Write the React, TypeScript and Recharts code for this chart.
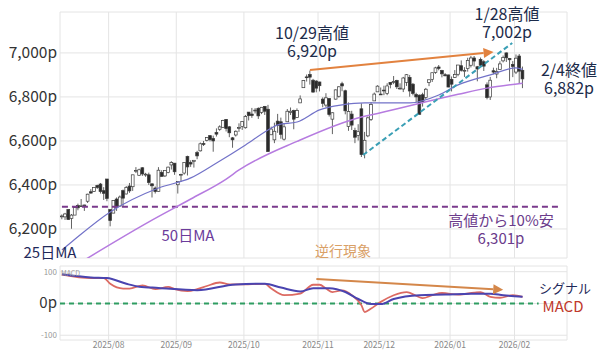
import React from 'react';
import {
  ComposedChart,
  Bar,
  Line,
  XAxis,
  YAxis,
  CartesianGrid,
  ReferenceLine,
} from 'recharts';

// trading days, Jul 11 2025 .. Feb 4 2026 (x = index)
const dates = [
  '7/11', '7/14', '7/15', '7/16', '7/17', '7/18', '7/21', '7/22', '7/23', '7/24', '7/25', '7/28', '7/29', '7/30', '7/31',
  '8/1', '8/4', '8/5', '8/6', '8/7', '8/8', '8/11', '8/12', '8/13', '8/14', '8/15', '8/18', '8/19', '8/20', '8/21', '8/22', '8/25', '8/26', '8/27', '8/28', '8/29',
  '9/2', '9/3', '9/4', '9/5', '9/8', '9/9', '9/10', '9/11', '9/12', '9/15', '9/16', '9/17', '9/18', '9/19', '9/22', '9/23', '9/24', '9/25', '9/26', '9/29', '9/30',
  '10/1', '10/2', '10/3', '10/6', '10/7', '10/8', '10/9', '10/10', '10/13', '10/14', '10/15', '10/16', '10/17', '10/20', '10/21', '10/22', '10/23', '10/24', '10/27', '10/28', '10/29', '10/30', '10/31',
  '11/3', '11/4', '11/5', '11/6', '11/7', '11/10', '11/11', '11/12', '11/13', '11/14', '11/17', '11/18', '11/19', '11/20', '11/21', '11/24', '11/25', '11/26', '11/28',
  '12/1', '12/2', '12/3', '12/4', '12/5', '12/8', '12/9', '12/10', '12/11', '12/12', '12/15', '12/16', '12/17', '12/18', '12/19', '12/22', '12/23', '12/24', '12/26', '12/29', '12/30', '12/31',
  '1/2', '1/5', '1/6', '1/7', '1/8', '1/9', '1/12', '1/13', '1/14', '1/15', '1/16', '1/20', '1/21', '1/22', '1/23', '1/26', '1/27', '1/28', '1/29', '1/30',
  '2/2', '2/3', '2/4',
];

const opens = [
  6255, 6255, 6288, 6248, 6263, 6306, 6304, 6307, 6326, 6369, 6371, 6397, 6404, 6374, 6427,
  6288, 6272, 6336, 6304, 6374, 6359, 6395, 6392, 6466, 6444, 6478, 6445, 6446, 6405, 6386, 6371, 6457, 6441, 6456, 6491, 6499,
  6401, 6445, 6454, 6529, 6502, 6506, 6547, 6555, 6588, 6602, 6624, 6611, 6638, 6653, 6662, 6698, 6664, 6614, 6627, 6661, 6665,
  6660, 6731, 6722, 6740, 6748, 6730, 6757, 6744, 6628, 6605, 6690, 6687, 6608, 6687, 6729, 6738, 6707, 6773, 6842, 6891, 6902, 6876, 6872,
  6868, 6790, 6763, 6793, 6699, 6790, 6803, 6860, 6828, 6666, 6722, 6647, 6625, 6746, 6543, 6623, 6697, 6782, 6823,
  6813, 6831, 6815, 6866, 6866, 6875, 6840, 6836, 6866, 6889, 6858, 6811, 6808, 6810, 6797, 6866, 6880, 6911, 6936, 6920, 6901, 6900,
  6880, 6889, 6903, 6942, 6917, 6929, 6944, 6977, 6937, 6970, 6960, 6855, 6800, 6919, 6904, 6925, 6964, 7000, 6975, 6948,
  6913, 6986, 6921,
];

const highs = [
  6266, 6273, 6290, 6268, 6301, 6315, 6336, 6310, 6360, 6381, 6390, 6401, 6409, 6390, 6427,
  6288, 6330, 6343, 6352, 6379, 6395, 6409, 6446, 6481, 6474, 6481, 6455, 6456, 6407, 6393, 6481, 6467, 6466, 6483, 6508, 6499,
  6416, 6451, 6502, 6533, 6512, 6513, 6555, 6593, 6600, 6616, 6627, 6624, 6657, 6671, 6696, 6699, 6668, 6618, 6648, 6680, 6689,
  6718, 6731, 6750, 6749, 6753, 6754, 6759, 6764, 6665, 6683, 6723, 6706, 6680, 6745, 6752, 6742, 6748, 6807, 6877, 6902, 6920, 6882, 6876,
  6869, 6798, 6817, 6794, 6730, 6834, 6849, 6869, 6833, 6775, 6737, 6660, 6676, 6771, 6641, 6711, 6777, 6820, 6853,
  6843, 6851, 6862, 6867, 6895, 6878, 6862, 6891, 6904, 6900, 6863, 6819, 6811, 6819, 6841, 6878, 6910, 6937, 6945, 6923, 6908, 6901,
  6893, 6922, 6945, 6966, 6935, 6978, 6986, 6986, 6941, 6979, 6967, 6866, 6891, 6933, 6932, 6962, 6988, 7002, 6977, 6963,
  6993, 6995, 6938,
];

const lows = [
  6244, 6241, 6241, 6201, 6263, 6285, 6303, 6282, 6318, 6361, 6368, 6382, 6361, 6332, 6326,
  6212, 6272, 6282, 6302, 6300, 6357, 6364, 6373, 6454, 6441, 6441, 6437, 6400, 6343, 6361, 6370, 6438, 6436, 6453, 6470, 6446,
  6361, 6414, 6447, 6443, 6482, 6479, 6517, 6552, 6577, 6598, 6598, 6551, 6620, 6646, 6660, 6643, 6617, 6569, 6620, 6641, 6650,
  6656, 6693, 6705, 6725, 6700, 6722, 6718, 6550, 6627, 6590, 6637, 6610, 6602, 6687, 6718, 6653, 6704, 6773, 6842, 6870, 6856, 6820, 6821,
  6825, 6753, 6753, 6711, 6631, 6788, 6797, 6826, 6721, 6646, 6650, 6590, 6602, 6527, 6521, 6617, 6691, 6782, 6823,
  6811, 6808, 6808, 6839, 6858, 6836, 6833, 6822, 6850, 6801, 6807, 6775, 6720, 6756, 6788, 6849, 6868, 6905, 6921, 6889, 6894, 6844,
  6825, 6887, 6894, 6915, 6891, 6915, 6934, 6938, 6871, 6937, 6918, 6789, 6786, 6903, 6885, 6925, 6957, 6959, 6871, 6890,
  6904, 6862, 6840,
];

const closes = [
  6259, 6268, 6243, 6263, 6297, 6296, 6305, 6309, 6358, 6363, 6389, 6389, 6370, 6362, 6339,
  6238, 6329, 6299, 6345, 6340, 6389, 6373, 6446, 6466, 6469, 6450, 6449, 6411, 6396, 6370, 6467, 6439, 6466, 6481, 6502, 6460,
  6416, 6448, 6502, 6482, 6495, 6512, 6532, 6587, 6584, 6615, 6606, 6600, 6631, 6664, 6693, 6656, 6637, 6605, 6644, 6661, 6688,
  6711, 6715, 6716, 6740, 6714, 6753, 6735, 6552, 6654, 6644, 6671, 6630, 6664, 6735, 6735, 6699, 6738, 6791, 6875, 6890, 6890, 6822, 6840,
  6851, 6771, 6796, 6720, 6728, 6832, 6846, 6850, 6737, 6734, 6672, 6617, 6642, 6538, 6603, 6705, 6766, 6813, 6849,
  6812, 6829, 6850, 6857, 6870, 6846, 6840, 6886, 6901, 6827, 6816, 6800, 6721, 6775, 6835, 6878, 6910, 6932, 6930, 6905, 6896, 6845,
  6858, 6902, 6945, 6921, 6921, 6966, 6977, 6963, 6927, 6944, 6940, 6797, 6876, 6913, 6916, 6950, 6979, 6978, 6969, 6939,
  6976, 6917, 6882,
];

// moving averages at a few days
const ma25Days = [0, 3, 15, 30, 40, 48, 57, 64, 67, 73, 80, 87, 94, 108, 117, 123, 133, 141, 143];
const ma25Values = [6105, 6141, 6277, 6386, 6432, 6500, 6582, 6650, 6673, 6686, 6741, 6764, 6773, 6773, 6809, 6855, 6900, 6932, 6925];
const ma50Days = [6, 27, 40, 51, 55, 73, 93, 98, 123, 132, 143];
const ma50Values = [6050, 6232, 6336, 6427, 6468, 6598, 6709, 6725, 6812, 6840, 6862];

const macdDays = [0, 9, 13, 15, 19, 21, 25, 29, 33, 35, 39, 42, 45, 49, 52, 55, 63, 65, 69, 74, 78, 80, 82, 84, 87, 90, 93, 94, 96, 99, 103, 107, 112, 115, 118, 123, 128, 130, 133, 136, 140, 143];
const macdValues = [91, 80, 80, 62, 47, 47, 57, 45, 52, 45, 39, 45, 55, 66, 60, 60, 62, 47, 26, 31, 59, 59, 47, 36, 41, 26, -6, -27, -16, 5, 26, 36, 17, 26, 33, 28, 34, 36, 21, 18, 26, 21];
const signalDays = [0, 9, 14, 20, 24, 30, 42, 54, 63, 68, 74, 78, 83, 88, 92, 96, 99, 103, 111, 119, 127, 133, 137, 143];
const signalValues = [92, 82, 80, 62, 53, 49, 42, 60, 62, 50, 38, 48, 48, 36, 14, -2, -2, 14, 26, 28, 31, 31, 26, 21];

const monthTicks = [14.5, 35.5, 56.5, 79.5, 98.5, 120.5, 140.5];
const monthLabels = ['2025/08', '2025/09', '2025/10', '2025/11', '2025/12', '2026/01', '2026/02'];
const priceTicks = [6200, 6400, 6600, 6800, 7000];
const macdTicks = [-100, -50, 0, 50, 100];

const X_DOMAIN: [number, number] = [-0.6, 156.8];
const FONT = '"Noto Sans CJK JP", "Noto Sans", sans-serif';

const priceRows = dates.map((d, i) => ({
  i,
  date: d,
  open: opens[i],
  high: highs[i],
  low: lows[i],
  close: closes[i],
  ma25: null as number | null,
  ma50: null as number | null,
}));
ma25Days.forEach((k, j) => (priceRows[k].ma25 = ma25Values[j]));
ma50Days.forEach((k, j) => (priceRows[k].ma50 = ma50Values[j]));

const macdRows = dates.map((d, i) => ({ i, date: d, macd: null as number | null, signal: null as number | null }));
macdDays.forEach((k, j) => (macdRows[k].macd = macdValues[j]));
signalDays.forEach((k, j) => (macdRows[k].signal = signalValues[j]));

const Candle = (props: any) => {
  const { x, y, width, height, payload } = props;
  if (x == null || y == null || !payload) return null;
  const top = Math.min(y, y + height);
  const h = Math.abs(height);
  const { open, close, high, low } = payload;
  const span = high - low || 1;
  const py = (p: number) => top + ((high - p) / span) * h;
  const cx = x + width / 2;
  const b1 = py(Math.max(open, close));
  const b2 = py(Math.min(open, close));
  const up = close >= open;
  return (
    <g>
      <line x1={cx} x2={cx} y1={top} y2={top + h} stroke="#3a3a3a" strokeWidth={0.8} />
      <rect
        x={cx - 1.4}
        y={b1}
        width={2.8}
        height={Math.max(b2 - b1, 0.8)}
        fill={up ? '#ffffff' : '#2a2a2a'}
        stroke="#3a3a3a"
        strokeWidth={0.7}
      />
    </g>
  );
};

const arrow = (color: string, w: number) => (p: any) => {
  const { x1, y1, x2, y2 } = p;
  const a = Math.atan2(y2 - y1, x2 - x1);
  const len = 10;
  const half = 5;
  const bx = x2 - len * Math.cos(a);
  const by = y2 - len * Math.sin(a);
  const nx = -Math.sin(a) * half;
  const ny = Math.cos(a) * half;
  return (
    <g>
      <line x1={x1} y1={y1} x2={bx} y2={by} stroke={color} strokeWidth={w} />
      <polygon points={`${x2},${y2} ${bx + nx},${by + ny} ${bx - nx},${by - ny}`} fill={color} />
    </g>
  );
};

const PriceTick = ({ x, y, payload }: any) => (
  <text x={x} y={y} dy={5.5} textAnchor="end" fontSize={15.5} fill="#333" fontFamily={FONT}>
    {payload.value.toLocaleString('en-US')}p
  </text>
);

const MacdTick = ({ x, y, payload }: any) =>
  payload.value === 0 ? (
    <text x={x} y={y} dy={5} textAnchor="end" fontSize={15} fill="#333" fontFamily={FONT}>
      0p
    </text>
  ) : (
    <text x={x} y={y} dy={3} textAnchor="end" fontSize={8} fill="#999" fontFamily={FONT}>
      {payload.value}
    </text>
  );

const MonthTick = ({ x, y, payload }: any) => {
  const k = monthTicks.indexOf(payload.value);
  return (
    <text x={x} y={y} dy={6} textAnchor="middle" fontSize={8.5} fill="#888" fontFamily={FONT}>
      {monthLabels[k]}
    </text>
  );
};

// centred note; lines = one or two rows, y = centre of first row
const Note = ({ x, y, lines, color, size, gap = 18 }: { x: number; y: number; lines: string[]; color: string; size: number; gap?: number }) => (
  <div
    style={{
      position: 'absolute',
      left: x - 100,
      top: y - gap / 2,
      width: 200,
      textAlign: 'center',
      fontSize: size,
      lineHeight: `${gap}px`,
      color,
      whiteSpace: 'pre',
      fontFamily: FONT,
    }}
  >
    {lines.join('\n')}
  </div>
);

export default function App() {
  return (
    <div
      style={{
        position: 'absolute',
        left: 0,
        top: 0,
        width: 600,
        height: 353,
        background: '#fff',
        overflow: 'hidden',
        fontFamily: FONT,
      }}
    >
      <div style={{ position: 'absolute', left: 0, top: 0 }}>
        <ComposedChart width={600} height={262} data={priceRows} margin={{ top: 12, right: 33, bottom: 4, left: 0 }}>
          <CartesianGrid stroke="#e4e4e4" strokeWidth={1} />
          <XAxis dataKey="i" type="number" domain={X_DOMAIN} ticks={monthTicks} allowDataOverflow hide />
          <YAxis
            type="number"
            domain={[6068, 7186]}
            ticks={priceTicks}
            allowDataOverflow
            width={60}
            axisLine={false}
            tickLine={false}
            tickSize={3}
            tickMargin={0}
            tick={<PriceTick />}
          />
          <ReferenceLine
            segment={[{ x: 0, y: 6301 }, { x: 154, y: 6301 }]}
            stroke="#7a3a8c"
            strokeWidth={2}
            strokeDasharray="6 4"
          />
          <Line type="monotone" dataKey="ma50" stroke="#b67be0" strokeWidth={1.5} dot={false} connectNulls isAnimationActive={false} />
          <Line type="monotone" dataKey="ma25" stroke="#7272c8" strokeWidth={1.2} dot={false} connectNulls isAnimationActive={false} />
          <Bar dataKey={(d: any) => [d.low, d.high]} barSize={3} shape={<Candle />} isAnimationActive={false} />
          <ReferenceLine
            segment={[{ x: 93.5, y: 6536 }, { x: 139.8, y: 7045 }]}
            stroke="#3a9fb5"
            strokeWidth={2}
            strokeDasharray="5 3"
          />
          <ReferenceLine
            segment={[{ x: 77, y: 6922 }, { x: 134, y: 7004 }]}
            shape={arrow('#e2823f', 2)}
          />
        </ComposedChart>
      </div>
      <div style={{ position: 'absolute', left: 0, top: 262 }}>
        <ComposedChart width={600} height={91} data={macdRows} margin={{ top: 4, right: 33, bottom: 0, left: 0 }}>
          <CartesianGrid stroke="#e4e4e4" strokeWidth={1} />
          <XAxis
            dataKey="i"
            type="number"
            domain={X_DOMAIN}
            ticks={monthTicks}
            allowDataOverflow
            height={13}
            axisLine={false}
            tickLine={false}
            tickSize={2}
            tickMargin={0}
            tick={<MonthTick />}
          />
          <YAxis
            type="number"
            domain={[-115, 118]}
            ticks={macdTicks}
            allowDataOverflow
            width={60}
            axisLine={false}
            tickLine={false}
            tickSize={3}
            tickMargin={0}
            tick={<MacdTick />}
          />
          <ReferenceLine
            segment={[{ x: -0.6, y: 0 }, { x: 148, y: 0 }]}
            stroke="#2f9d62"
            strokeWidth={1.8}
            strokeDasharray="5 4"
          />
          <Line type="monotone" dataKey="macd" stroke="#dc6a62" strokeWidth={1.8} dot={false} connectNulls isAnimationActive={false} />
          <Line type="monotone" dataKey="signal" stroke="#4a44b0" strokeWidth={2} dot={false} connectNulls isAnimationActive={false} />
          <ReferenceLine segment={[{ x: 79, y: 77 }, { x: 137, y: 43 }]} shape={arrow('#d4874a', 1.8)} />
        </ComposedChart>
      </div>

      <div style={{ position: 'absolute', left: 61, top: 268, fontSize: 7, color: '#999' }}>MACD</div>

      <Note x={312} y={32} lines={['10/29高値', '6,920p']} color="#1c2b4a" size={16} />
      <Note x={507} y={13} lines={['1/28高値', '7,002p']} color="#1c2b4a" size={16} />
      <Note x={569} y={69} lines={['2/4終値', '6,882p']} color="#1c2b4a" size={16} />
      <Note x={501} y={220} lines={['高値から10%安', '6,301p']} color="#6b3b8b" size={15} />
      <Note x={188} y={235} lines={['50日MA']} color="#6b3b9b" size={15} />
      <Note x={50} y={252} lines={['25日MA']} color="#1f2a5a" size={15} />
      <Note x={343} y={250} lines={['逆行現象']} color="#d9a066" size={14} />
      <Note x={565} y={288} lines={['シグナル']} color="#1f2a5a" size={13} />
      <Note x={563} y={306} lines={['MACD']} color="#c0392b" size={15} />
    </div>
  );
}
